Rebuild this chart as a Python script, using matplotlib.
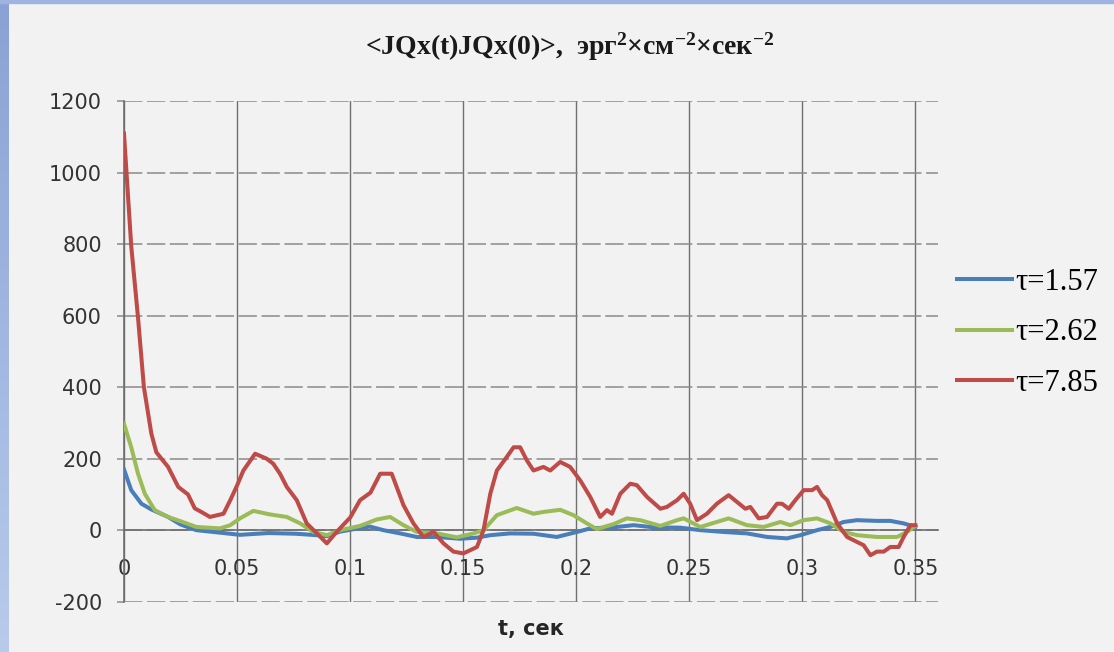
import numpy as np
import matplotlib.pyplot as plt
from matplotlib.colors import LinearSegmentedColormap
from matplotlib.patches import Rectangle

plt.rcParams["mathtext.fontset"] = "custom"
plt.rcParams["mathtext.rm"] = "Liberation Serif:bold"
plt.rcParams["mathtext.it"] = "Liberation Serif:bold"
plt.rcParams["axes.unicode_minus"] = False

# автокореляція потоку тепла для трьох значень tau
t_157 = [0.000, 0.0032, 0.0077, 0.0121, 0.0195, 0.0250, 0.0320, 0.0425, 0.0513,
         0.0640, 0.0760, 0.0853, 0.0897, 0.0956, 0.1044, 0.1088, 0.1147, 0.1221,
         0.1295, 0.1383, 0.1487, 0.1561, 0.1620, 0.1708, 0.1811, 0.1914, 0.2003,
         0.2062, 0.2165, 0.2254, 0.2342, 0.2460, 0.2549, 0.2652, 0.2755, 0.2844,
         0.2932, 0.2991, 0.3065, 0.3124, 0.3183, 0.3242, 0.3330, 0.3389, 0.3448,
         0.3500]
v_157 = [170, 112, 74, 58, 37, 16, 0, -7, -13,
         -8, -10, -14, -17, -4, 6, 10, 0, -9,
         -19, -19, -24, -21, -14, -9, -10, -19, -5,
         5, 8, 14, 8, 7, 0, -5, -9, -19,
         -23, -14, 0, 9, 23, 28, 26, 26, 19,
         9]

t_262 = [0.000, 0.0032, 0.0062, 0.0092, 0.0136, 0.0195, 0.0250, 0.0320, 0.0425,
         0.0470, 0.0513, 0.0572, 0.0646, 0.0720, 0.0779, 0.0838, 0.0897, 0.0956,
         0.1044, 0.1118, 0.1177, 0.1236, 0.1295, 0.1383, 0.1472, 0.1546, 0.1590,
         0.1649, 0.1737, 0.1811, 0.1855, 0.1929, 0.1988, 0.2047, 0.2091, 0.2165,
         0.2224, 0.2283, 0.2372, 0.2446, 0.2475, 0.2549, 0.2622, 0.2674, 0.2755,
         0.2829, 0.2903, 0.2947, 0.3006, 0.3065, 0.3124, 0.3183, 0.3242, 0.3330,
         0.3419, 0.3463, 0.3500]
v_262 = [298, 232, 158, 102, 56, 37, 25, 9, 5,
         14, 33, 54, 44, 37, 19, -5, -14, 0,
         12, 30, 37, 14, -5, -9, -20, -9, 0,
         42, 62, 46, 51, 57, 42, 19, 3, 17,
         33, 28, 12, 28, 33, 9, 23, 33, 14,
         9, 23, 14, 28, 33, 19, -5, -14, -19,
         -19, -5, 12]

t_785 = [0.000, 0.0032, 0.0062, 0.0088, 0.0121, 0.0143, 0.0195, 0.0240, 0.0283,
         0.0313, 0.0345, 0.0380, 0.0440, 0.0470, 0.0500, 0.0528, 0.0580, 0.0631,
         0.0660, 0.0690, 0.0720, 0.0764, 0.0808, 0.0853, 0.0897, 0.0940, 0.1000,
         0.1044, 0.1090, 0.1133, 0.1184, 0.1236, 0.1280, 0.1324, 0.1369, 0.1413,
         0.1457, 0.1501, 0.1561, 0.1590, 0.1620, 0.1649, 0.1693, 0.1723, 0.1752,
         0.1782, 0.1811, 0.1855, 0.1885, 0.1929, 0.1973, 0.2018, 0.2062, 0.2106,
         0.2136, 0.2158, 0.2195, 0.2239, 0.2268, 0.2313, 0.2372, 0.2401, 0.2446,
         0.2475, 0.2504, 0.2534, 0.2578, 0.2622, 0.2674, 0.2711, 0.2748, 0.2770,
         0.2807, 0.2844, 0.2888, 0.2910, 0.2940, 0.2969, 0.3006, 0.3043, 0.3065,
         0.3087, 0.3110, 0.3154, 0.3198, 0.3242, 0.3271, 0.3301, 0.3330, 0.3360,
         0.3389, 0.3426, 0.3448, 0.3478, 0.3500]
v_785 = [1110, 795, 595, 400, 270, 218, 177, 121, 100,
         61, 50, 37, 46, 84, 125, 167, 214, 200,
         186, 158, 121, 84, 19, -9, -37, -5, 35,
         84, 105, 158, 158, 70, 19, -19, -5, -37,
         -60, -65, -47, 0, 102, 167, 205, 232, 232,
         195, 167, 177, 167, 191, 177, 139, 93, 37,
         56, 46, 102, 130, 126, 93, 60, 65, 84,
         102, 74, 28, 46, 74, 98, 79, 60, 65,
         33, 37, 74, 74, 60, 84, 112, 112, 121,
         98, 84, 19, -19, -33, -42, -70, -60, -60,
         -47, -47, -19, 14, 14]

labels = ["τ=1.57", "τ=2.62", "τ=7.85"]
colors = ["#4a7ebb", "#9bbb59", "#be4b48"]
x_ticks = [0, 0.05, 0.1, 0.15, 0.2, 0.25, 0.3, 0.35]
x_ticklabels = ["0", "0.05", "0.1", "0.15", "0.2", "0.25", "0.3", "0.35"]
y_ticks = [-200, 0, 200, 400, 600, 800, 1000, 1200]

W, H = 1114, 652
fig = plt.figure(figsize=(W / 100, H / 100), dpi=100, facecolor="#f2f2f2")

# синя рамка зліва і зверху
strip = fig.add_axes([0, 0, 9 / W, 1])
cmap = LinearSegmentedColormap.from_list("frame", ["#8aa2d4", "#b8cbec"])
strip.imshow(np.linspace(0, 1, 256).reshape(-1, 1), aspect="auto", cmap=cmap,
             extent=[0, 1, 0, 1])
strip.axis("off")
fig.patches.append(Rectangle((0, 1 - 3 / H), 1, 3 / H, transform=fig.transFigure,
                             color="#9fb4e0", zorder=5))

ax = fig.add_axes([124 / W, 1 - 602 / H, (938 - 124) / W, (602 - 101) / H])
ax.set_facecolor("#f2f2f2")

for t, v, lab, c in zip([t_157, t_262, t_785], [v_157, v_262, v_785], labels, colors):
    ax.plot(t, v, color=c, lw=2.9, label=lab, solid_joinstyle="round", zorder=3)

ax.set_xlim(0, 0.36)
ax.set_ylim(-201, 1201)
ax.set_xticks(x_ticks)
ax.set_xticklabels(x_ticklabels)
ax.set_yticks(y_ticks)

for s in ["top", "right"]:
    ax.spines[s].set_visible(False)
ax.spines["bottom"].set_position(("data", 0))
ax.spines["bottom"].set_color("#6e6e6e")
ax.spines["bottom"].set_linewidth(1.2)
ax.spines["left"].set_color("#6e6e6e")
ax.spines["left"].set_linewidth(1.2)

ax.yaxis.grid(True, color="#8a8a8a", lw=1.1, linestyle=(0, (12, 3)))
ax.xaxis.grid(True, color="#707070", lw=1.0, linestyle="-")
ax.set_axisbelow(True)

ax.tick_params(axis="y", length=5, width=1.1, color="#8a8a8a", pad=11,
               labelsize=15, labelcolor="#333333")
ax.tick_params(axis="x", length=0, pad=21, labelsize=15, labelcolor="#333333")

ax.set_xlabel("t, сек", fontsize=15, fontweight="bold", color="#262626")
ax.xaxis.set_label_coords(0.5, -0.033)

fig.text(570 / W, 1 - 47 / H,
         "<JQx(t)JQx(0)>,  эрг$^{2}$×см$^{-2}$×сек$^{-2}$",
         family="Liberation Serif", fontweight="bold", fontsize=20,
         ha="center", va="center", color="#1a1a1a")

ax.legend(loc="upper left", bbox_to_anchor=(957 / W, 1 - 268 / H),
          bbox_transform=fig.transFigure, frameon=False,
          prop={"family": "Liberation Serif", "size": 22},
          handlelength=1.8, handletextpad=0.12, labelspacing=0.7,
          borderpad=0, borderaxespad=0)

fig.savefig("out.png", dpi=100, facecolor=fig.get_facecolor())
